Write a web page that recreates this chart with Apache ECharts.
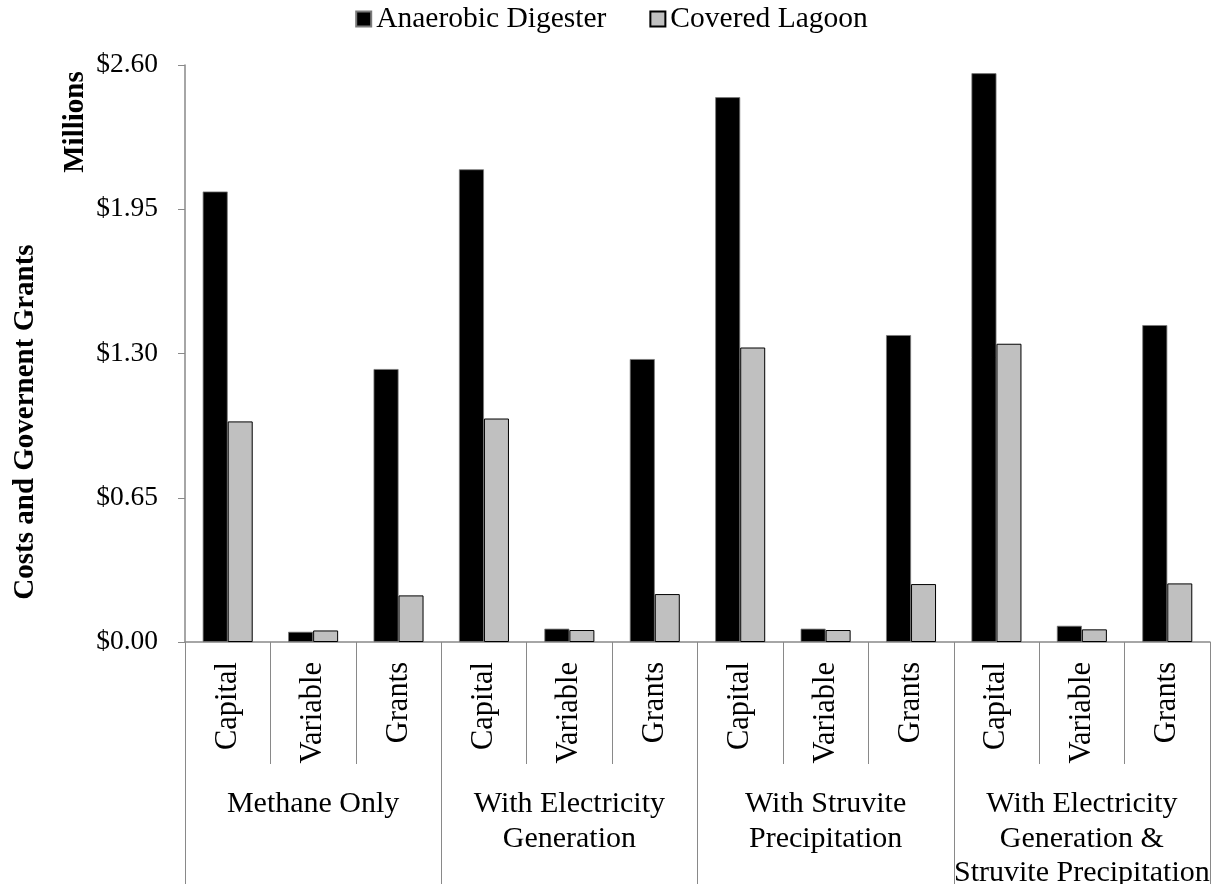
<!DOCTYPE html>
<html>
<head>
<meta charset="utf-8">
<script src="https://cdn.jsdelivr.net/npm/echarts@6/dist/echarts.min.js"></script>
<style>
html,body{margin:0;padding:0;background:#fff;}
#chart{width:1223px;height:884px;}
</style>
</head>
<body>
<div id="chart"></div>
<script>
const subCategories = ['Capital','Variable','Grants','Capital','Variable','Grants','Capital','Variable','Grants','Capital','Variable','Grants'];
const groupCategories = ['Methane Only','With Electricity\nGeneration','With Struvite\nPrecipitation','With Electricity\nGeneration &\nStruvite Precipitation'];
const seriesNames = ['Anaerobic Digester','Covered Lagoon'];
const anaerobicDigester = [2.03, 0.046, 1.23, 2.13, 0.060, 1.275, 2.455, 0.060, 1.383, 2.563, 0.073, 1.428];
const coveredLagoon = [0.994, 0.052, 0.21, 1.007, 0.054, 0.216, 1.327, 0.054, 0.261, 1.344, 0.057, 0.264];
const yTicks = [0, 0.65, 1.30, 1.95, 2.60];

const FONT = "'Liberation Serif', 'Times New Roman', serif";
const AXIS_COLOR = '#898989';

const chart = echarts.init(document.getElementById('chart'), null, {renderer:'canvas'});
const option = {
  backgroundColor: '#ffffff',
  animation: false,
  legend: {
    top: -1,
    left: 'center',
    itemWidth: 15,
    itemHeight: 15,
    itemGap: 43,
    textStyle: {fontFamily: FONT, fontSize: 29.5, color: '#000'},
    data: seriesNames.map(n => ({name: n, icon: 'rect'}))
  },
  grid: {left: 185, right: 13, top: 65, bottom: 242, containLabel: false, outerBoundsMode: 'none'},
  xAxis: [
    {
      type: 'category',
      data: subCategories,
      position: 'bottom',
      axisLine: {show: true, lineStyle: {color: AXIS_COLOR, width: 1.5}},
      axisTick: {show: true, length: 122, interval: 0, lineStyle: {color: AXIS_COLOR, width: 1}},
      axisLabel: {interval: 0, rotate: 90, margin: 20, fontFamily: FONT, fontSize: 30.5, color: '#000'}
    },
    {
      type: 'category',
      data: groupCategories,
      position: 'bottom',
      offset: 0,
      axisLine: {show: false},
      axisTick: {show: true, length: 242, interval: 0, lineStyle: {color: AXIS_COLOR, width: 1}},
      axisLabel: {interval: 0, margin: 145, fontFamily: FONT, fontSize: 30, lineHeight: 34.5, color: '#000', align: 'center'}
    }
  ],
  yAxis: {
    type: 'value',
    min: 0,
    max: 2.6,
    interval: 0.65,
    axisLine: {show: true, lineStyle: {color: AXIS_COLOR, width: 1.5}},
    axisTick: {show: true, length: 7, lineStyle: {color: AXIS_COLOR, width: 1}},
    splitLine: {show: false},
    axisLabel: {
      margin: 27,
      fontFamily: FONT, fontSize: 27.5, color: '#000',
      formatter: v => '$' + v.toFixed(2)
    }
  },
  graphic: [
    {
      type: 'text',
      x: 76, y: 122,
      rotation: Math.PI/2,
      style: {text: 'Millions', fontFamily: FONT, fontSize: 29, fontWeight: 'bold', fill: '#000', align: 'center', verticalAlign: 'middle'}
    },
    {
      type: 'text',
      x: 26, y: 422,
      rotation: Math.PI/2,
      style: {text: 'Costs and Governent Grants', fontFamily: FONT, fontSize: 29, fontWeight: 'bold', fill: '#000', align: 'center', verticalAlign: 'middle'}
    }
  ],
  series: [
    {
      name: seriesNames[0],
      type: 'bar',
      data: anaerobicDigester,
      barWidth: 25,
      barGap: '0%',
      itemStyle: {color: '#000000', borderColor: '#7a7a7a', borderWidth: 0.8}
    },
    {
      name: seriesNames[1],
      type: 'bar',
      data: coveredLagoon,
      barWidth: 25,
      barGap: '0%',
      itemStyle: {color: '#c0c0c0', borderColor: '#000000', borderWidth: 1}
    }
  ]
};
chart.setOption(option);
</script>
</body>
</html>
